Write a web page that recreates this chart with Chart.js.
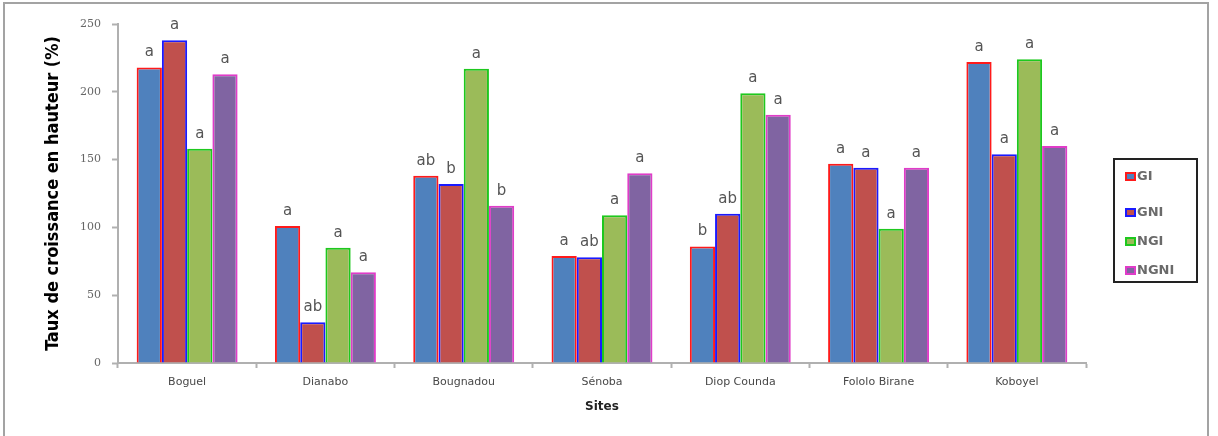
<!DOCTYPE html>
<html>
<head>
<meta charset="utf-8">
<script src="https://cdn.jsdelivr.net/npm/chart.js@4/dist/chart.umd.min.js"></script>
<style>
    body { margin: 0; background: #fff; }
    #wrap { position: relative; width: 1218px; height: 436px; overflow: hidden; }
    #frame {
        position: absolute; left: 3px; top: 2px; width: 1206px; height: 460px;
        border: 2px solid #a3a3a3; box-sizing: border-box;
    }
    #legend {
        position: absolute; left: 1113px; top: 158px; width: 85px; height: 125px;
        border: 2px solid #222; box-sizing: border-box; font-family: "DejaVu Sans", sans-serif;
        font-size: 13px; font-weight: bold; color: #6a6a6a;
    }
    #legend div { position: absolute; left: 10px; height: 14px; line-height: 14px; }
    #legend span {
        display: inline-block; width: 11px; height: 9px; box-sizing: border-box;
        border: 2px solid; vertical-align: -1px; margin-right: 1px;
    }
    canvas { position: absolute; left: 0; top: 0; }
</style>
</head>
<body>
<div id="wrap">
    <div id="frame"></div>
    <canvas id="myCanvas" width="1218" height="436"></canvas>
    <div id="legend"></div>
</div>
<script>
const sites = ['Boguel', 'Dianabo', 'Bougnadou', 'Sénoba', 'Diop Counda', 'Fololo Birane', 'Koboyel']
const series = ['GI', 'GNI', 'NGI', 'NGNI']

const gi = [218, 101, 138, 79, 86, 147, 222]
const gni = [238, 30, 132, 78, 110, 144, 154]
const ngi = [158, 85, 217, 109, 199, 99, 224]
const ngni = [213, 67, 116, 140, 183, 144, 160]

// significance letters, same order as the values
const lettersGi = ['a', 'a', 'ab', 'a', 'b', 'a', 'a']
const lettersGni = ['a', 'ab', 'b', 'ab', 'ab', 'a', 'a']
const lettersNgi = ['a', 'a', 'a', 'a', 'a', 'a', 'a']
const lettersNgni = ['a', 'a', 'b', 'a', 'a', 'a', 'a']

const yTicks = [0, 50, 100, 150, 200, 250]

const fills = ['#4f81bd', '#c0504d', '#9bbb59', '#8064a2']
const borders = ['#ff1a1a', '#1a1aff', '#1ec81e', '#e03cc8']

const values = [gi, gni, ngi, ngni]
const letters = [lettersGi, lettersGni, lettersNgi, lettersNgni]

// legend box on the right
const legendTop = [9, 45, 74, 103]
const legend = document.getElementById('legend')
series.forEach((name, i) => {
    let item = document.createElement('div')
    item.style.top = legendTop[i] + 'px'
    item.innerHTML = `<span style="background:${fills[i]};border-color:${borders[i]}"></span>${name}`
    legend.appendChild(item)
})

// writes the letter above each bar
const letterPlugin = {
    id: 'letters',
    afterDatasetsDraw(chart) {
        const ctx = chart.ctx
        ctx.save()
        ctx.font = '15px "DejaVu Sans", sans-serif'
        ctx.fillStyle = '#555'
        ctx.textAlign = 'center'
        ctx.textBaseline = 'alphabetic'
        chart.data.datasets.forEach((ds, i) => {
            chart.getDatasetMeta(i).data.forEach((bar, j) => {
                ctx.fillText(letters[i][j], bar.x, bar.y - 11)
            })
        })
        ctx.restore()
    }
}

const ctx = document.getElementById('myCanvas').getContext('2d')

let growthChart = new Chart(ctx, {
    type: 'bar',
    data: {
        labels: sites,
        datasets: series.map((name, i) => ({
            label: name,
            data: values[i],
            backgroundColor: fills[i],
            borderColor: borders[i],
            borderWidth: 2,
            categoryPercentage: 0.73,
            barPercentage: 1.0
        }))
    },
    options: {
        responsive: false,
        animation: false,
        layout: {
            padding: { left: 0, right: 132, top: 24, bottom: 0 }
        },
        plugins: {
            legend: { display: false },
            tooltip: { enabled: false }
        },
        scales: {
            x: {
                afterFit: (scale) => { scale.height = 73 },
                border: { color: '#b0b0b0', width: 2 },
                grid: {
                    offset: true,
                    drawOnChartArea: false,
                    tickLength: 5,
                    tickWidth: 2,
                    color: '#b0b0b0'
                },
                ticks: {
                    padding: 8,
                    color: '#484848',
                    font: { family: 'DejaVu Sans', size: 11 }
                },
                title: {
                    display: true,
                    text: 'Sites',
                    color: '#222',
                    padding: { top: 0, bottom: 22 },
                    font: { family: 'DejaVu Sans', size: 12, weight: 'bold' }
                }
            },
            y: {
                min: 0,
                max: 250,
                afterFit: (scale) => { scale.width = 118 },
                afterBuildTicks: (scale) => { scale.ticks = yTicks.map(v => ({ value: v })) },
                border: { color: '#b0b0b0', width: 2 },
                grid: {
                    drawOnChartArea: false,
                    tickLength: 6,
                    tickWidth: 2,
                    color: '#b0b0b0'
                },
                ticks: {
                    padding: 11,
                    color: '#666',
                    font: { family: 'DejaVu Serif', size: 11 }
                },
                title: {
                    display: true,
                    text: 'Taux de croissance en hauteur (%)',
                    color: '#000',
                    padding: { top: 43, bottom: 0 },
                    font: { family: '"DejaVu Sans Condensed"', size: 18, weight: 'bold' }
                }
            }
        }
    },
    plugins: [letterPlugin]
})
</script>
</body>
</html>
